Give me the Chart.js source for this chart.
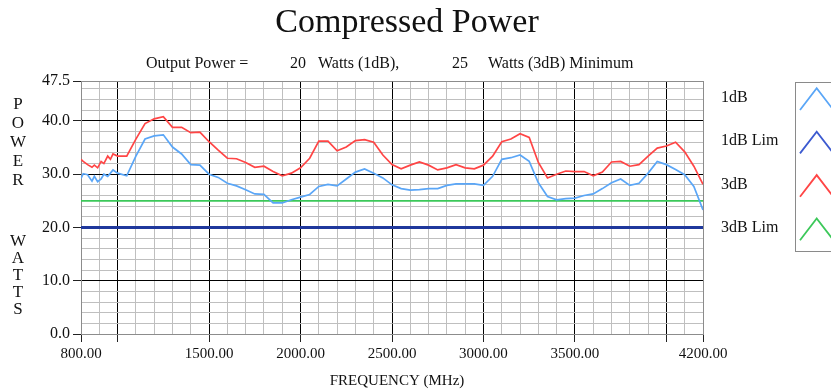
<!DOCTYPE html>
<html>
<head>
<meta charset="utf-8">
<script src="https://cdn.jsdelivr.net/npm/chart.js@4.4.0/dist/chart.umd.min.js"></script>
<style>
  body { margin: 0; background: #fff; }
  #wrap { width: 831px; height: 392px; }
</style>
</head>
<body>
<div id="wrap"><canvas id="grafico"></canvas></div>
<script>
// frequency points (MHz)
const freqs = [
  800, 812, 836, 860, 873, 891, 910, 925, 946, 961, 975, 1000,
  1050, 1100, 1150, 1200, 1250, 1300, 1350, 1400, 1450, 1500,
  1550, 1600, 1650, 1700, 1750, 1800, 1850, 1900, 1950, 2000,
  2050, 2100, 2150, 2200, 2250, 2300, 2350, 2400, 2450, 2500,
  2550, 2600, 2650, 2700, 2750, 2800, 2850, 2900, 2950, 3000,
  3050, 3100, 3150, 3200, 3250, 3300, 3350, 3400, 3450, 3500,
  3550, 3600, 3650, 3700, 3750, 3800, 3850, 3900, 3950, 4000,
  4050, 4100, 4150, 4200
];
// power in watts
const power1dB = [
  29.2, 30.1, 29.9, 28.7, 29.6, 28.6, 29.1, 30.0, 29.6, 30.2, 30.8, 30.2,
  29.7, 33.4, 36.6, 37.2, 37.4, 35.1, 33.8, 31.8, 31.7, 30.0,
  29.4, 28.3, 27.8, 27.1, 26.3, 26.2, 24.6, 24.6, 25.2, 25.7,
  26.2, 27.7, 28.1, 27.8, 29.1, 30.4, 31.0, 30.2, 29.3, 28.0,
  27.3, 27.0, 27.1, 27.3, 27.3, 27.9, 28.2, 28.2, 28.2, 27.9,
  29.6, 32.8, 33.1, 33.6, 32.4, 28.4, 25.8, 25.2, 25.4, 25.5,
  26.0, 26.3, 27.3, 28.4, 29.1, 27.9, 28.3, 30.2, 32.4, 31.8,
  30.9, 29.9, 27.7, 23.3
];
const power3dB = [
  32.8, 32.4, 31.8, 31.3, 31.7, 31.2, 32.4, 32.0, 33.4, 32.8, 33.8, 33.4,
  33.4, 36.6, 39.5, 40.4, 40.8, 38.8, 38.8, 37.8, 37.9, 36.1,
  34.5, 33.0, 32.9, 32.2, 31.3, 31.5, 30.5, 29.7, 30.2, 31.2,
  33.0, 36.2, 36.2, 34.4, 35.1, 36.3, 36.5, 36.0, 33.6, 31.8,
  31.0, 31.7, 32.3, 31.7, 30.8, 31.2, 31.8, 31.2, 31.0, 31.7,
  33.4, 36.1, 36.6, 37.6, 36.9, 32.2, 29.3, 30.0, 30.6, 30.5,
  30.5, 29.7, 30.4, 32.3, 32.4, 31.5, 31.8, 33.4, 34.9, 35.3,
  36.0, 34.2, 31.5, 28.1
];
const limFreqs = [800, 4200];
const lim1dB = [20, 20];
const lim3dB = [25, 25];

const seriesNames = ['1dB', '1dB Lim', '3dB', '3dB Lim'];
const yLabels = [0, 10, 20, 30, 40, 47.5];
const yMajor = [10, 20, 30, 40];
const xLabels = [800, 1500, 2000, 2500, 3000, 3500, 4200];
const xMarks = [800, 1000, 1500, 2000, 2500, 3000, 3500, 4000, 4200];
const xMajor = [1000, 1500, 2000, 2500, 3000, 3500, 4000];

const serif = "'Liberation Serif', 'Times New Roman', serif";

// grid lines: every 100 MHz and every 2 W
const xGrid = [];
for (let f = 800; f <= 4200; f += 100) xGrid.push(f);
const yGrid = [];
for (let w = 0; w <= 46; w += 2) yGrid.push(w);
yGrid.push(47.5);

function pts(xs, ys) {
  return xs.map((x, i) => ({ x: x, y: ys[i] }));
}

const decor = {
  id: 'decor',
  afterDraw(chart) {
    const ctx = chart.ctx;
    ctx.save();
    ctx.fillStyle = '#111';
    ctx.textBaseline = 'alphabetic';

    // title
    ctx.font = '34px ' + serif;
    ctx.textAlign = 'center';
    ctx.fillText('Compressed Power', 407, 32);

    // sub title
    ctx.font = '16px ' + serif;
    ctx.textAlign = 'left';
    [['Output Power =', 146], ['20', 290], ['Watts (1dB),', 318],
     ['25', 452], ['Watts (3dB) Minimum', 488]].forEach(p => ctx.fillText(p[0], p[1], 68));

    // y title, stacked letters
    ctx.font = '17px ' + serif;
    ctx.textAlign = 'center';
    ctx.textBaseline = 'middle';
    'POWER'.split('').forEach((ch, i) => ctx.fillText(ch, 18, 105 + i * 18.8));
    'WATTS'.split('').forEach((ch, i) => ctx.fillText(ch, 18, 242 + i * 16.8));

    // x title
    ctx.font = '15px ' + serif;
    ctx.fillText('FREQUENCY (MHz)', 397, 381);

    // legend
    ctx.textAlign = 'left';
    ctx.textBaseline = 'alphabetic';
    ctx.font = '16px ' + serif;
    chart.data.datasets.forEach((ds, i) => {
      ctx.fillStyle = '#111';
      ctx.fillText(ds.label, 721, 101.7 + i * 43.4);
      const top = 88.3 + i * 43.4;
      ctx.strokeStyle = ds.iconColor;
      ctx.lineWidth = 1.8;
      ctx.beginPath();
      ctx.moveTo(800, top + 21.7);
      ctx.lineTo(816.7, top);
      ctx.lineTo(833.4, top + 21.7);
      ctx.stroke();
    });
    ctx.strokeStyle = '#8a8a8a';
    ctx.lineWidth = 1;
    ctx.strokeRect(795.5, 82.5, 60, 169);
    ctx.restore();
  }
};

const ctx = document.getElementById('grafico').getContext('2d');
new Chart(ctx, {
  type: 'line',
  data: {
    datasets: [
      { label: seriesNames[0], data: pts(freqs, power1dB), borderColor: '#5aa6f7', iconColor: '#5aa6f7', borderWidth: 1.7 },
      { label: seriesNames[1], data: pts(limFreqs, lim1dB), borderColor: '#1f389c', iconColor: '#3c5ad0', borderWidth: 3 },
      { label: seriesNames[2], data: pts(freqs, power3dB), borderColor: '#ff4545', iconColor: '#ff4545', borderWidth: 1.7 },
      { label: seriesNames[3], data: pts(limFreqs, lim3dB), borderColor: '#3cc85a', iconColor: '#3cc85a', borderWidth: 1.7 }
    ]
  },
  options: {
    responsive: true,
    maintainAspectRatio: false,
    animation: false,
    devicePixelRatio: 1,
    layout: { padding: { left: 0, right: 128, top: 81, bottom: 0 } },
    elements: { point: { radius: 0 }, line: { tension: 0 } },
    plugins: { legend: { display: false }, tooltip: { enabled: false } },
    scales: {
      x: {
        type: 'linear',
        min: 800,
        max: 4200,
        afterBuildTicks: s => { s.ticks = xGrid.map(v => ({ value: v })); },
        afterFit: s => { s.height = 58; },
        grid: {
          lineWidth: 1,
          tickLength: 8,
          color: c => {
            const v = c.tick ? c.tick.value : 0;
            if (v === 800 || v === 4200) return '#8c8c8c';
            return xMajor.includes(v) ? '#000' : '#bfbfbf';
          },
          tickColor: c => (c.tick && xMarks.includes(c.tick.value)) ? '#222' : 'rgba(0,0,0,0)'
        },
        border: { color: '#8c8c8c' },
        ticks: {
          autoSkip: false,
          maxRotation: 0,
          minRotation: 0,
          padding: 3,
          color: '#111',
          font: { family: serif, size: 15 },
          callback: v => xLabels.includes(v) ? v.toFixed(2) : ''
        }
      },
      y: {
        min: 0,
        max: 47.5,
        afterBuildTicks: s => { s.ticks = yGrid.map(v => ({ value: v })); },
        afterFit: s => { s.width = 81; },
        grid: {
          lineWidth: 1,
          tickLength: 8,
          color: c => {
            const v = c.tick ? c.tick.value : 0;
            if (v === 0 || v === 47.5) return '#8c8c8c';
            return yMajor.includes(v) ? '#000' : '#bfbfbf';
          },
          tickColor: c => (c.tick && yLabels.includes(c.tick.value)) ? '#222' : 'rgba(0,0,0,0)'
        },
        border: { color: '#8c8c8c' },
        ticks: {
          autoSkip: false,
          padding: 3,
          color: '#111',
          font: { family: serif, size: 16 },
          callback: v => yLabels.includes(v) ? v.toFixed(1) : ''
        }
      }
    }
  },
  plugins: [decor]
});
</script>
</body>
</html>
